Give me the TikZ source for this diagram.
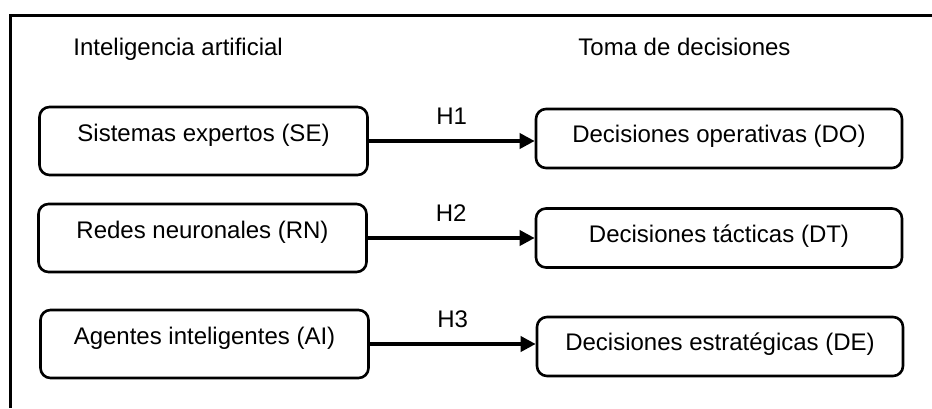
\documentclass[tikz,border=0pt]{standalone}
\usepackage{fontspec}
\setmainfont{Liberation Sans}
\usetikzlibrary{arrows.meta, positioning}

\begin{document}
\begin{tikzpicture}[
    x=0.5pt, y=-0.5pt,
    font=\fontsize{12}{14}\selectfont,
    cause/.style={rectangle, rounded corners=5pt, draw=black, line width=1.3pt, minimum width=164pt, minimum height=34pt, text height=0pt, text depth=0pt, inner sep=0pt},
    effect/.style={rectangle, rounded corners=5pt, draw=black, line width=1.3pt, minimum width=183pt, minimum height=29.5pt, text height=4pt, text depth=0pt, inner sep=0pt},
    title/.style={anchor=base west, inner sep=0pt},
    hyp/.style={-{Triangle[length=7.5pt, width=7.5pt]}, line width=1.8pt},
    frame/.style={line width=1.5pt}
]
\useasboundingbox (0,0) rectangle (932,408);

% Frame & Headings
\draw[frame] (10,408) -- (10,15) -- (932,15);
\node[title] (ia) at (73,55) {Inteligencia artificial};
\node[title] (td) at (578,55) {Toma de decisiones};

% Independent Variables
\node[cause] (se) at (203.5,141) {Sistemas expertos (SE)};
\node[cause] (rn) at (202.5,238) {Redes neuronales (RN)};
\node[cause] (ai) at (204.5,344) {Agentes inteligentes (AI)};

% Dependent Variables
\node[effect] (do) at (719,138.5) {Decisiones operativas (DO)};
\node[effect] (dt) at (719,238) {Decisiones tácticas (DT)};
\node[effect] (de) at (720,346.5) {Decisiones estratégicas (DE)};

% Hypotheses
\draw[hyp] (se.east) -- (se.east -| do.west) node[midway, above=4pt] {H1};
\draw[hyp] (rn.east) -- (rn.east -| dt.west) node[midway, above=4pt] {H2};
\draw[hyp] (ai.east) -- (ai.east -| de.west) node[midway, above=4pt] {H3};

\end{tikzpicture}
\end{document}
